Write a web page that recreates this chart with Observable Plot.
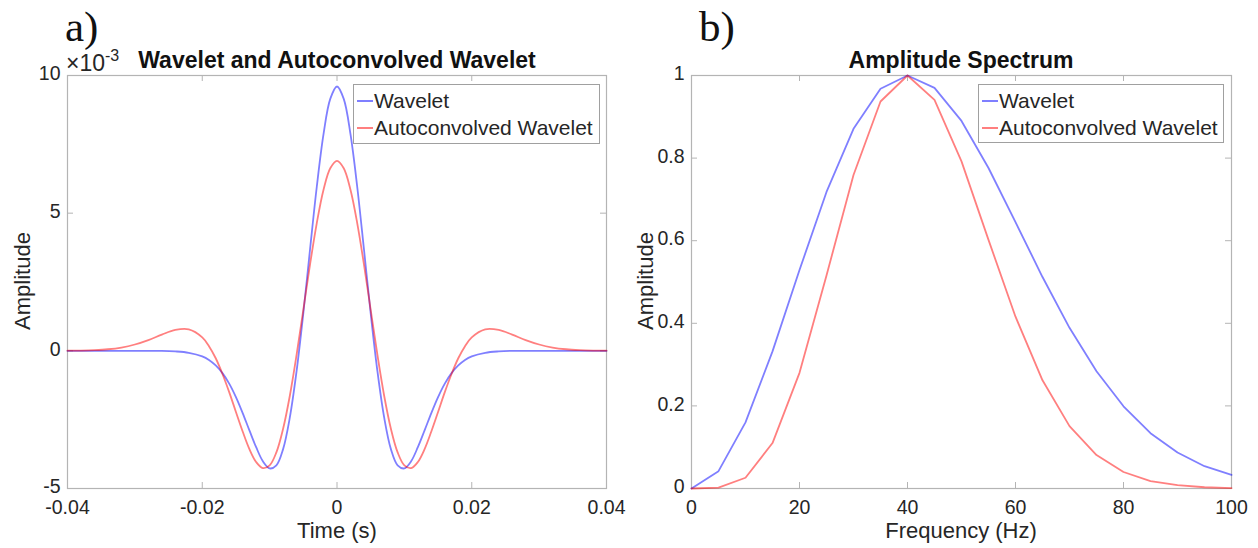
<!DOCTYPE html>
<html>
<head>
<meta charset="utf-8">
<script src="https://cdn.jsdelivr.net/npm/d3@7"></script>
<script src="https://cdn.jsdelivr.net/npm/@observablehq/plot@0.6"></script>
<style>
  html, body { margin: 0; padding: 0; background: white; }
  #wrap { position: relative; width: 1258px; height: 548px; overflow: hidden; background: white;
          font-family: "Liberation Sans", Arial, sans-serif; color: #262626; }
  .abs { position: absolute; white-space: nowrap; }
  .panel { position: absolute; top: 0; }
  .lbl { font-size: 22px; }
  .ttl { font-size: 23px; font-weight: bold; color: #111; }
  .tag { font-family: "Liberation Serif", "Times New Roman", serif; font-size: 43px; line-height: 47px; color: #111; }
  .expo { font-size: 23px; line-height: 24px; }
  .expo sup { font-size: 16px; position: relative; top: -3px; vertical-align: top; line-height: 16px; }
  .legend { position: absolute; background: white; border: 1px solid #a0a0a0; font-size: 21px; box-sizing: border-box; }
  .legrow { position: absolute; left: 0; height: 26px; line-height: 26px; }
  .legline { position: absolute; left: 3px; width: 16px; height: 2px; top: 12px; }
  .legtxt { position: absolute; left: 20px; top: 0; }
</style>
</head>
<body>
<div id="wrap"></div>
<script>
// ---------- data ----------
const timeS = [
  -0.040,-0.038,-0.036,-0.034,-0.032,-0.030,-0.028,-0.026,-0.024,-0.022,
  -0.020,-0.019,-0.018,-0.017,-0.016,-0.015,-0.014,-0.013,-0.012,-0.011,
  -0.010,-0.009,-0.008,-0.007,-0.006,-0.005,-0.004,-0.003,-0.002,-0.001,
  0,
  0.001,0.002,0.003,0.004,0.005,0.006,0.007,0.008,0.009,0.010,
  0.011,0.012,0.013,0.014,0.015,0.016,0.017,0.018,0.019,0.020,
  0.022,0.024,0.026,0.028,0.030,0.032,0.034,0.036,0.038,0.040
];
// amplitudes in units of 1e-3
const waveletAmp = [
  0,0,0,0,0,0,0,0,-0.02,-0.07,
  -0.20,-0.33,-0.53,-0.81,-1.19,-1.68,-2.26,-2.89,-3.50,-4.01,
  -4.27,-4.16,-3.57,-2.42,-0.74,1.36,3.69,5.96,7.87,9.15,
  9.60,
  9.15,7.87,5.96,3.69,1.36,-0.74,-2.42,-3.57,-4.16,-4.27,
  -4.01,-3.50,-2.89,-2.26,-1.68,-1.19,-0.81,-0.53,-0.33,-0.20,
  -0.07,-0.02,0,0,0,0,0,0,0,0
];
const autoconvAmp = [
  0.004,0.010,0.025,0.057,0.12,0.23,0.39,0.59,0.76,0.78,
  0.49,0.17,-0.27,-0.84,-1.50,-2.22,-2.93,-3.57,-4.04,-4.26,
  -4.16,-3.69,-2.83,-1.63,-0.15,1.49,3.14,4.64,5.85,6.63,
  6.90,
  6.63,5.85,4.64,3.14,1.49,-0.15,-1.63,-2.83,-3.69,-4.16,
  -4.26,-4.04,-3.57,-2.93,-2.22,-1.50,-0.84,-0.27,0.17,0.49,
  0.78,0.76,0.59,0.39,0.23,0.12,0.057,0.025,0.010,0.004
];
const freqHz = [0,5,10,15,20,25,30,35,40,45,50,55,60,65,70,75,80,85,90,95,100];
const waveletSpec = [0,0.042,0.160,0.332,0.529,0.718,0.871,0.968,1.0,0.970,0.890,0.776,0.645,0.512,0.389,0.284,0.199,0.134,0.087,0.054,0.033];
const autoconvSpec = [0,0.002,0.026,0.110,0.280,0.516,0.759,0.937,1.0,0.941,0.792,0.602,0.416,0.262,0.151,0.081,0.040,0.018,0.008,0.003,0.001];

const timeTicks = [-0.04,-0.02,0,0.02,0.04];
const ampTicks = [-5,0,5,10];
const freqTicks = [0,20,40,60,80,100];
const specTicks = [0,0.2,0.4,0.6,0.8,1];
const seriesNames = ["Wavelet","Autoconvolved Wavelet"];
const seriesColors = ["#0000ff","#ff0000"];

// ---------- build tables ----------
const timeRows = [];
timeS.forEach((t,i)=>timeRows.push({t, v: waveletAmp[i], s: seriesNames[0]}));
timeS.forEach((t,i)=>timeRows.push({t, v: autoconvAmp[i], s: seriesNames[1]}));
const specRows = [];
freqHz.forEach((f,i)=>specRows.push({f, v: waveletSpec[i], s: seriesNames[0]}));
freqHz.forEach((f,i)=>specRows.push({f, v: autoconvSpec[i], s: seriesNames[1]}));

const PW = 629, PH = 548, MT = 75, MB = 60;
const frameColor = "#b4b4b4";
const tickLen = 6;
const textColor = "#262626";
const baseStyle = {fontFamily: "'Liberation Sans', Arial, sans-serif", fontSize: "19.5px", color: textColor, background: "transparent", overflow: "visible"};

function panel(opts) {
  const {ml, mr, xDomain, yDomain, xTicks, yTicks, xFmt, yFmt, rows, xKey, curve} = opts;
  const iw = PW - ml - mr, ih = PH - MT - MB;
  return Plot.plot({
    width: PW, height: PH,
    marginLeft: ml, marginRight: mr, marginTop: MT, marginBottom: MB,
    x: {domain: xDomain},
    y: {domain: yDomain},
    color: {domain: seriesNames, range: seriesColors},
    style: baseStyle,
    marks: [
      Plot.frame({stroke: frameColor, strokeWidth: 1.2}),
      Plot.tickX(xTicks, {x: d=>d, insetTop: ih - tickLen, stroke: frameColor}),
      Plot.tickX(xTicks, {x: d=>d, insetBottom: ih - tickLen, stroke: frameColor}),
      Plot.tickY(yTicks, {y: d=>d, insetRight: iw - tickLen, stroke: frameColor}),
      Plot.tickY(yTicks, {y: d=>d, insetLeft: iw - tickLen, stroke: frameColor}),
      Plot.axisX(xTicks, {tickSize: 0, tickPadding: 12, label: null, tickFormat: xFmt}),
      Plot.axisY(yTicks, {tickSize: 0, tickPadding: 7, dy: -1.5, label: null, tickFormat: yFmt}),
      Plot.line(rows, {x: xKey, y: "v", z: "s", stroke: "s", strokeOpacity: 0.5, strokeWidth: 1.8, curve})
    ]
  });
}

const wrap = document.getElementById("wrap");

const leftPlot = panel({
  ml: 67, mr: 23, xDomain: [-0.04, 0.04], yDomain: [-5, 10],
  xTicks: timeTicks, yTicks: ampTicks,
  xFmt: d => d === 0 ? "0" : d.toFixed(2),
  yFmt: d => String(d),
  rows: timeRows, xKey: "t", curve: "catmull-rom"
});
const rightPlot = panel({
  ml: 62, mr: 27, xDomain: [0, 100], yDomain: [0, 1],
  xTicks: freqTicks, yTicks: specTicks,
  xFmt: d => String(d),
  yFmt: d => (d === 0 || d === 1) ? String(d) : d.toFixed(1),
  rows: specRows, xKey: "f", curve: "linear"
});

const lp = document.createElement("div"); lp.className = "panel"; lp.style.left = "0px"; lp.appendChild(leftPlot); wrap.appendChild(lp);
const rp = document.createElement("div"); rp.className = "panel"; rp.style.left = "629px"; rp.appendChild(rightPlot); wrap.appendChild(rp);

function addText(cls, html, x, y, anchor, rotate) {
  const d = document.createElement("div");
  d.className = "abs " + cls;
  d.innerHTML = html;
  d.style.left = x + "px";
  d.style.top = y + "px";
  let tf = "";
  if (anchor === "center") tf = "translate(-50%,-50%)";
  else if (anchor === "left") tf = "translate(0,-50%)";
  if (rotate) tf += " rotate(" + rotate + "deg)";
  d.style.transform = tf;
  wrap.appendChild(d);
  return d;
}

// panel tags
addText("tag", "a)", 65, 26, "left");
addText("tag", "b)", 699, 26, "left");
// titles
addText("ttl", "Wavelet and Autoconvolved Wavelet", 337, 60, "center");
addText("ttl", "Amplitude Spectrum", 961, 60, "center");
// exponent
addText("expo", "&times;10<sup>-3</sup>", 66, 63, "left");
// axis labels
addText("lbl", "Time (s)", 337, 531, "center");
addText("lbl", "Frequency (Hz)", 961, 531, "center");
addText("lbl", "Amplitude", 23, 281, "center", -90);
addText("lbl", "Amplitude", 646, 281, "center", -90);

function legend(x, y, w, h) {
  const L = document.createElement("div");
  L.className = "legend";
  L.style.left = x + "px"; L.style.top = y + "px";
  L.style.width = w + "px"; L.style.height = h + "px";
  seriesNames.forEach((name, i) => {
    const row = document.createElement("div");
    row.className = "legrow";
    row.style.top = (3 + i * 27) + "px";
    row.style.width = w + "px";
    const ln = document.createElement("div");
    ln.className = "legline";
    ln.style.background = seriesColors[i];
    ln.style.opacity = 0.5;
    const tx = document.createElement("div");
    tx.className = "legtxt";
    tx.textContent = name;
    row.appendChild(ln); row.appendChild(tx);
    L.appendChild(row);
  });
  wrap.appendChild(L);
}
legend(353, 84, 247, 60);
legend(978, 84, 246, 59);
</script>
</body>
</html>
